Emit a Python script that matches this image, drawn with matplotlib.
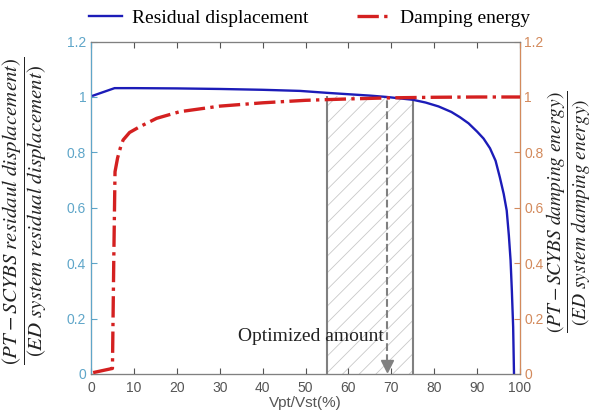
import numpy as np
import matplotlib
matplotlib.use('Agg')
import matplotlib.pyplot as plt
from matplotlib.ticker import FormatStrFormatter

# ratio Vpt/Vst in %
x_res = [0.5, 5.5, 10, 20, 30, 40, 48.7, 55, 60, 65, 69, 75, 78, 81, 84, 86, 88, 90,
         91.5, 93, 94.3, 95.3, 96.2, 96.9, 97.4, 97.8, 98.1, 98.4, 98.6]
y_res = [1.005, 1.032, 1.032, 1.031, 1.029, 1.026, 1.022, 1.015, 1.01, 1.005, 1.0, 0.99,
         0.98, 0.966, 0.946, 0.927, 0.905, 0.875, 0.85, 0.815, 0.77, 0.71, 0.65, 0.59,
         0.5, 0.41, 0.3, 0.17, 0.0]

x_dmp = [0.5, 5.0, 5.3, 5.6, 6.2, 7.0, 7.5, 9.0, 11.4, 15.3, 20.7, 30, 40, 50, 60,
         70, 80, 90, 100]
y_dmp = [0.005, 0.02, 0.4, 0.73, 0.78, 0.825, 0.845, 0.872, 0.893, 0.923, 0.947,
         0.967, 0.979, 0.988, 0.993, 0.997, 0.999, 1.0, 1.0]

opt_lo, opt_hi, opt_best = 55, 75, 69
opt_top = [1.005, 0.99]   # where the bounding lines meet the curves

yticks = [0, 0.2, 0.4, 0.6, 0.8, 1.0, 1.2]
xticks = list(range(0, 101, 10))

BLUE = '#1c1cb8'
RED = '#d42020'
LEFTC = '#5fa6c9'
RIGHTC = '#d38a5c'
GREY = '#808080'

plt.rcParams['mathtext.fontset'] = 'stix'
plt.rcParams['font.family'] = 'Liberation Sans'
plt.rcParams['hatch.color'] = '#c8c8c8'
plt.rcParams['hatch.linewidth'] = 0.6

fig = plt.figure(figsize=(5.92, 4.16), dpi=100)
ax = fig.add_axes([0.1537, 0.101, 0.7247, 0.799])
ax2 = ax.twinx()

# optimized region
ax.fill_between([opt_lo, opt_hi], 0, opt_top[0], facecolor='none', hatch='//',
                edgecolor='#c8c8c8', linewidth=0)
ax.vlines([opt_lo, opt_hi], 0, opt_top, color=GREY, lw=1.5, zorder=3)
ax.plot([opt_best, opt_best], [0.045, 1.0], ls='--', color=GREY, lw=1.5, zorder=3)
ax.plot([opt_best], [0.03], marker='v', ms=8, color=GREY, zorder=3, ls='none')
ax.text(opt_best - 0.8, 0.135, 'Optimized amount', family='Liberation Serif',
        fontsize=14, ha='right', va='center', color='#222222', zorder=4)

l1, = ax.plot(x_res, y_res, color=BLUE, lw=1.7, zorder=5)
l2, = ax2.plot(x_dmp, y_dmp, color=RED, lw=2.4, ls='-.', zorder=5)

for a in (ax, ax2):
    a.set_xlim(0, 100)
    a.set_ylim(0, 1.2)
    a.set_yticks(yticks)
    a.yaxis.set_major_formatter(FormatStrFormatter('%g'))
    a.tick_params(direction='in', length=4, labelsize=10)

ax.set_xticks(xticks)
ax.tick_params(axis='x', top=True, colors='#555555', labelcolor='#555555', pad=5)
ax.tick_params(axis='y', colors=LEFTC, labelcolor=LEFTC)
ax2.tick_params(axis='y', colors=RIGHTC, labelcolor=RIGHTC, pad=3)

for s in ('top', 'bottom'):
    ax2.spines[s].set_color(GREY)
ax2.spines['left'].set_color(LEFTC)
ax2.spines['right'].set_color(RIGHTC)

ax.set_xlabel('Vpt/Vst(%)', fontsize=11, color='#555555', labelpad=1)
ax.set_ylabel(r'$\dfrac{(PT-SCYBS\ residaul\ displacement)}{(ED\ system\ residual\ displacement)}$',
              fontsize=15, color='#222222')
ax.yaxis.set_label_coords(-0.097, 0.49)
ax2.set_ylabel(r'$\dfrac{(PT-SCYBS\ damping\ energy)}{(ED\ system\ damping\ energy)}$',
               fontsize=14, color='#222222')
ax2.yaxis.set_label_coords(1.058, 0.49)

ax2.legend([l1, l2], ['Residual displacement', 'Damping energy'], ncol=2,
           loc='lower center', bbox_to_anchor=(0.51, 1.02), frameon=False,
           prop={'family': 'Liberation Serif', 'size': 14}, handlelength=1.7,
           handletextpad=0.5, columnspacing=2.5, borderaxespad=0)

fig.savefig('out.png', dpi=100)
